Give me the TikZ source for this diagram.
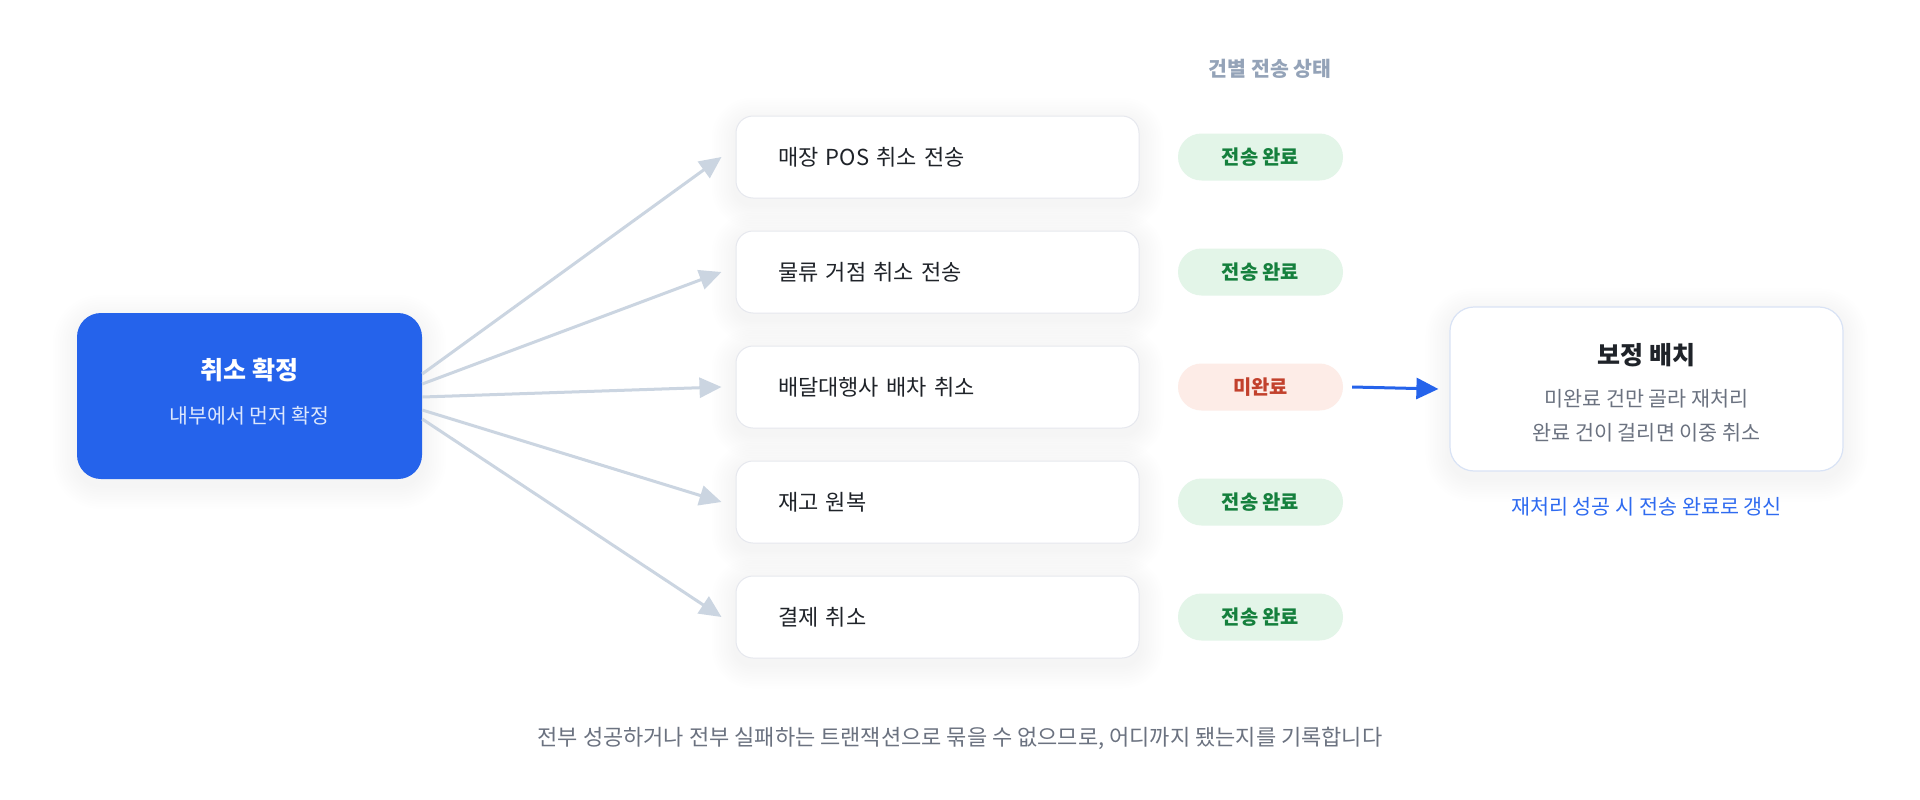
\documentclass[tikz,border=0pt]{standalone}
\usepackage{fontspec}
\setmainfont{Noto Sans CJK KR}
\usetikzlibrary{arrows.meta,backgrounds}
\definecolor{mainblue}{HTML}{2563EB}
\definecolor{subwhite}{HTML}{DCE7FD}
\definecolor{cardline}{HTML}{E6E8EE}
\definecolor{rightline}{HTML}{D9E3F5}
\definecolor{fancol}{HTML}{CBD5E1}
\definecolor{darktext}{HTML}{1F2329}
\definecolor{graytext}{HTML}{6B7280}
\definecolor{headgray}{HTML}{94A3B8}
\definecolor{okfill}{HTML}{E3F5E8}
\definecolor{oktext}{HTML}{15803D}
\definecolor{badfill}{HTML}{FDECE7}
\definecolor{badtext}{HTML}{C2412D}
\definecolor{capblue}{HTML}{2F6BF0}
\newcommand\mydropshadow[2]{%
  \begin{pgfonlayer}{background}
  \foreach \k in {1,...,10}{%
    \pgfmathsetmacro\rr{#2+2.4*\k}%
    \fill[black,fill opacity=0.0035,rounded corners=\rr pt]
      ([xshift=-2.4*\k pt,yshift=-6pt+2.4*\k pt]#1.north west) rectangle
      ([xshift=2.4*\k pt,yshift=-6pt-2.4*\k pt]#1.south east);}
  \end{pgfonlayer}}
\begin{document}
\begin{tikzpicture}[x=1pt,y=-1pt,
  card/.style={draw=cardline, line width=1pt, fill=white, rounded corners=17pt,
    minimum height=82pt, text width=319pt, inner xsep=42pt, align=left, text=darktext,
    font=\fontsize{22}{26}\selectfont},
  pill/.style={rounded corners=23.5pt, minimum width=165pt, minimum height=47pt, inner sep=0pt,
    font=\bfseries\fontsize{19.8}{23}\selectfont},
  pillok/.style={pill, fill=okfill, text=oktext},
  pillbad/.style={pill, fill=badfill, text=badtext},
  fan/.style={draw=fancol, line width=3pt, -{Triangle[length=22pt,width=20pt]}},
  lbl/.style={inner sep=0pt, anchor=center}
]
\begin{pgfonlayer}{background}
\fill[white] (0,0) rectangle (1920,800);
\end{pgfonlayer}
\useasboundingbox (0,0) rectangle (1920,800);

% source box
\node[fill=mainblue, rounded corners=24pt, minimum width=345pt, minimum height=166pt, inner sep=0pt] (src) at (249.5,396) {};
\node[lbl, text=white, font=\bfseries\fontsize{25}{29}\selectfont] (srct) at (249.5,370) {취소 확정};
\node[lbl, text=subwhite, font=\fontsize{20.5}{24}\selectfont] (srcs) at (249.5,416) {내부에서 먼저 확정};

% header
\node[lbl, text=headgray, font=\bfseries\fontsize{20.5}{24}\selectfont] (head) at (1270,69) {건별 전송 상태};

% targets
\node[card] (r1) at (937.5,157) {매장 POS 취소 전송};
\node[card] (r2) at (937.5,272) {물류 거점 취소 전송};
\node[card] (r3) at (937.5,387) {배달대행사 배차 취소};
\node[card] (r4) at (937.5,502) {재고 원복};
\node[card] (r5) at (937.5,617) {결제 취소};

% status pills
\node[pillok] (p1) at (1260.5,157) {전송 완료};
\node[pillok] (p2) at (1260.5,272) {전송 완료};
\node[pillbad] (p3) at (1260.5,387) {미완료};
\node[pillok] (p4) at (1260.5,502) {전송 완료};
\node[pillok] (p5) at (1260.5,617) {전송 완료};

% fan arrows
\draw[fan] ([yshift=22pt]src.east) -- ([xshift=-14pt]r1.west);
\draw[fan] ([yshift=12pt]src.east) -- ([xshift=-14pt]r2.west);
\draw[fan] ([yshift=-1pt]src.east) -- ([xshift=-14pt]r3.west);
\draw[fan] ([yshift=-14pt]src.east) -- ([xshift=-14pt]r4.west);
\draw[fan] ([yshift=-23pt]src.east) -- ([xshift=-14pt]r5.west);

% batch box
\node[draw=rightline, line width=1.2pt, fill=white, rounded corners=24pt, minimum width=393pt, minimum height=164pt, inner sep=0pt] (batch) at (1646.5,389) {};
\node[lbl, text=darktext, font=\bfseries\fontsize{25}{29}\selectfont] (batcht) at (1646.5,355) {보정 배치};
\node[lbl, text=graytext, font=\fontsize{20.7}{24}\selectfont] (batch1) at (1646.5,399) {미완료 건만 골라 재처리};
\node[lbl, text=graytext, font=\fontsize{20.7}{24}\selectfont] (batch2) at (1646.5,433) {완료 건이 걸리면 이중 취소};
\node[lbl, text=capblue, font=\fontsize{20.7}{24}\selectfont] (cap) at (1646.5,507) {재처리 성공 시 전송 완료로 갱신};

\draw[draw=mainblue, line width=3pt, -{Triangle[length=22pt,width=21pt]}] ([xshift=9pt]p3.east) -- ([xshift=-11pt]batch.west);

% footer
\node[lbl, text=graytext, font=\fontsize{22}{26}\selectfont] (foot) at (960,738) {전부 성공하거나 전부 실패하는 트랜잭션으로 묶을 수 없으므로, 어디까지 됐는지를 기록합니다};

% shadows
\mydropshadow{src}{24}
\mydropshadow{r1}{17}
\mydropshadow{r2}{17}
\mydropshadow{r3}{17}
\mydropshadow{r4}{17}
\mydropshadow{r5}{17}
\mydropshadow{batch}{24}
\end{tikzpicture}
\end{document}
